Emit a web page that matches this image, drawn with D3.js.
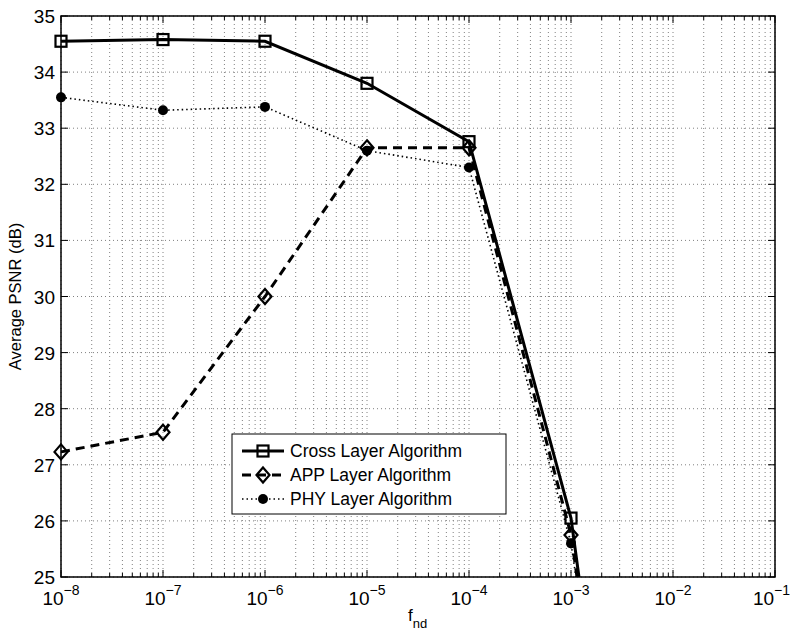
<!DOCTYPE html>
<html>
<head>
<meta charset="utf-8">
<script src="https://cdn.jsdelivr.net/npm/d3@7"></script>
<style>
  body { margin: 0; background: #fff; }
  text { font-family: "Liberation Sans", Arial, sans-serif; }
</style>
</head>
<body>
<div id="container"></div>
<script>
/* DATA */
const fnd = [1e-8, 1e-7, 1e-6, 1e-5, 1e-4, 1e-3, 1e-2];
const crossLayer = [34.55, 34.58, 34.55, 33.8, 32.76, 26.05, 12.6];
const appLayer   = [27.23, 27.58, 30.0, 32.65, 32.65, 25.75, 13.0];
const phyLayer   = [33.55, 33.32, 33.38, 32.6, 32.3, 25.6, 13.2];
const seriesNames = ["Cross Layer Algorithm", "APP Layer Algorithm", "PHY Layer Algorithm"];
const xTickExp = [-8, -7, -6, -5, -4, -3, -2, -1];
const yTicks = [25, 26, 27, 28, 29, 30, 31, 32, 33, 34, 35];

const width = 792,
      height = 634,
      margin = {top: 16, right: 17, bottom: 57, left: 61};
const w = width - margin.left - margin.right,
      h = height - margin.top - margin.bottom;

const svg = d3.select("#container")
  .append("svg")
  .attr("width", width)
  .attr("height", height);

const g = svg.append("g")
  .attr("transform", "translate(" + margin.left + "," + margin.top + ")");

const xScale = d3.scaleLog().domain([1e-8, 1e-1]).range([0, w]);
const yScale = d3.scaleLinear().domain([25, 35]).range([h, 0]);

// minor ticks for the log axis
const minorX = [];
for (let e = -8; e < -1; e++) {
  for (let m = 2; m <= 9; m++) minorX.push(m * Math.pow(10, e));
}
const majorX = xTickExp.map(e => Math.pow(10, e));

/* GRID */
const grid = g.append("g").attr("stroke", "#808080").attr("stroke-width", 1)
  .attr("stroke-dasharray", "1,3");
grid.selectAll(".gx").data(majorX.concat(minorX)).enter().append("line")
  .attr("x1", d => xScale(d)).attr("x2", d => xScale(d))
  .attr("y1", 0).attr("y2", h);
grid.selectAll(".gy").data(yTicks).enter().append("line")
  .attr("x1", 0).attr("x2", w)
  .attr("y1", d => yScale(d)).attr("y2", d => yScale(d));

/* TICKS (inside, all four sides) */
const ticks = g.append("g").attr("stroke", "#000").attr("stroke-width", 1);
majorX.forEach(d => {
  ticks.append("line").attr("x1", xScale(d)).attr("x2", xScale(d)).attr("y1", h).attr("y2", h - 7);
  ticks.append("line").attr("x1", xScale(d)).attr("x2", xScale(d)).attr("y1", 0).attr("y2", 7);
});
minorX.forEach(d => {
  ticks.append("line").attr("x1", xScale(d)).attr("x2", xScale(d)).attr("y1", h).attr("y2", h - 4);
  ticks.append("line").attr("x1", xScale(d)).attr("x2", xScale(d)).attr("y1", 0).attr("y2", 4);
});
yTicks.forEach(d => {
  ticks.append("line").attr("x1", 0).attr("x2", 7).attr("y1", yScale(d)).attr("y2", yScale(d));
  ticks.append("line").attr("x1", w).attr("x2", w - 7).attr("y1", yScale(d)).attr("y2", yScale(d));
});

/* LINES */
g.append("clipPath").attr("id", "clip")
  .append("rect").attr("x", -8).attr("y", -8).attr("width", w + 16).attr("height", h + 8);

const plot = g.append("g").attr("clip-path", "url(#clip)");
const line = d3.line().x(d => xScale(d[0])).y(d => yScale(d[1]));

const series = [
  {name: seriesNames[0], values: crossLayer, dash: null, width: 3, marker: "square"},
  {name: seriesNames[1], values: appLayer, dash: "9,6", width: 3, marker: "diamond"},
  {name: seriesNames[2], values: phyLayer, dash: "1.5,3", width: 1.6, marker: "circle"}
];

function drawMarker(sel, type, x, y) {
  if (type === "square") {
    sel.append("rect").attr("x", x - 5.5).attr("y", y - 5.5).attr("width", 11).attr("height", 11)
      .attr("fill", "none").attr("stroke", "#000").attr("stroke-width", 2.2);
  } else if (type === "diamond") {
    sel.append("path").attr("d", `M${x},${y - 7.5}L${x + 6.5},${y}L${x},${y + 7.5}L${x - 6.5},${y}Z`)
      .attr("fill", "none").attr("stroke", "#000").attr("stroke-width", 2.2);
  } else {
    sel.append("circle").attr("cx", x).attr("cy", y).attr("r", 5).attr("fill", "#000");
  }
}

series.slice().reverse().forEach(s => {
  const pts = fnd.map((f, i) => [f, s.values[i]]);
  plot.append("path").datum(pts)
    .attr("d", line)
    .attr("fill", "none")
    .attr("stroke", "#000")
    .attr("stroke-width", s.width)
    .attr("stroke-dasharray", s.dash);
  pts.forEach(p => {
    if (p[1] >= 25) drawMarker(plot, s.marker, xScale(p[0]), yScale(p[1]));
  });
});

/* FRAME */
g.append("rect").attr("width", w).attr("height", h)
  .attr("fill", "none").attr("stroke", "#000").attr("stroke-width", 1.5);

/* AXIS LABELS */
yTicks.forEach(d => {
  g.append("text").attr("x", -6).attr("y", yScale(d) + 7)
    .attr("text-anchor", "end").attr("font-size", 19).text(d);
});
xTickExp.forEach((e, i) => {
  const last = i === xTickExp.length - 1;
  const t = g.append("text")
    .attr("x", last ? w + margin.right - 2 : xScale(Math.pow(10, e)))
    .attr("y", h + 28)
    .attr("text-anchor", last ? "end" : "middle").attr("font-size", 19);
  t.append("tspan").text("10");
  t.append("tspan").attr("dy", -10).attr("font-size", 14).text("\u2212" + Math.abs(e));
});

const xl = svg.append("text").attr("x", 408).attr("y", 621).attr("font-size", 17);
xl.append("tspan").text("f");
xl.append("tspan").attr("dy", 7).attr("font-size", 13).text("nd");

svg.append("text")
  .attr("transform", "translate(21," + (margin.top + h / 2) + ") rotate(-90)")
  .attr("text-anchor", "middle").attr("font-size", 16.5)
  .text("Average PSNR (dB)");

/* LEGEND */
const legend = svg.append("g").attr("transform", "translate(232,434)");
legend.append("rect").attr("width", 274).attr("height", 80)
  .attr("fill", "#fff").attr("stroke", "#000").attr("stroke-width", 1);
series.forEach((s, i) => {
  const y = 17 + i * 24;
  legend.append("line").attr("x1", 10).attr("x2", 52).attr("y1", y).attr("y2", y)
    .attr("stroke", "#000").attr("stroke-width", s.width).attr("stroke-dasharray", s.dash);
  drawMarker(legend, s.marker, 31, y);
  legend.append("text").attr("x", 58).attr("y", y + 6).attr("font-size", 17.5).text(s.name);
});
</script>
</body>
</html>
